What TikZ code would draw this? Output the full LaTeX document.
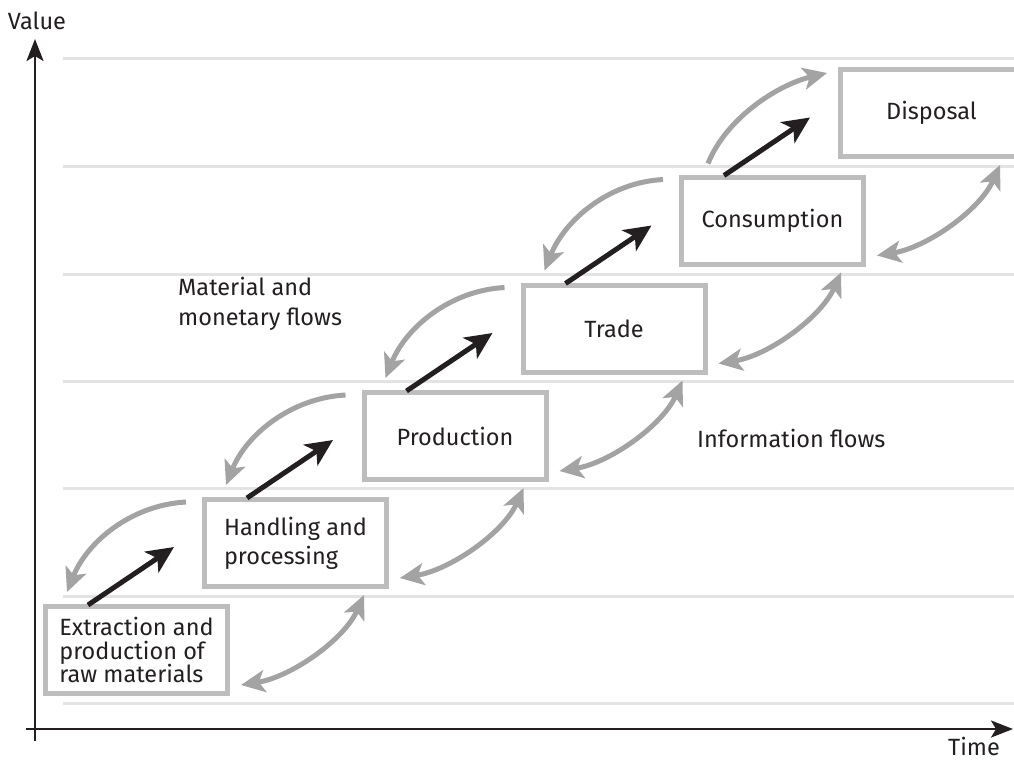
\documentclass[tikz,border=0pt]{standalone}
\usepackage{fontspec}
\setmainfont{Fira Sans}
\usetikzlibrary{arrows.meta,calc}
\definecolor{boxgray}{HTML}{BDBDBD}
\definecolor{arrgray}{HTML}{A3A3A3}
\definecolor{gridgray}{HTML}{E3E3E3}
\definecolor{dark}{HTML}{231F20}
\newcommand{\lblfont}{\fontsize{23.5}{28}\selectfont}
\begin{document}
\begin{tikzpicture}[x=1pt,y=-1pt,
  stage/.style={draw=boxgray, line width=5pt, fill=white, minimum width=182pt,
    minimum height=87pt, inner sep=0pt, text=dark, font=\lblfont},
  fwd/.style={draw=dark, line width=5pt, -{Stealth[length=27pt,width=25pt,inset=7pt]}},
  back/.style={draw=arrgray, line width=5pt, -{Stealth[length=24pt,width=22pt,inset=6pt]}},
  info/.style={draw=arrgray, line width=5pt, {Stealth[length=24pt,width=22pt,inset=6pt]}-{Stealth[length=24pt,width=22pt,inset=6pt]}},
  gridline/.style={draw=gridgray, line width=3pt},
  axis/.style={draw=dark, line width=2.5pt, -{Stealth[length=22pt,width=17pt,inset=5pt]}},
  lbl/.style={text=dark, font=\lblfont, inner sep=0pt}]
\clip (0,0) rectangle (1014,761);
\fill[white] (0,0) rectangle (1014,761);
% grid lines
\foreach \yy in {58,166,274,381,488,596,703}
  \draw[gridline] (63,\yy) -- (1014,\yy);
% axes
\coordinate (yb) at (35,741);
\coordinate (yt) at (35,39);
\coordinate (xl) at (26,729);
\coordinate (xr) at (1013,729);
\draw[axis] (yb) -- (yt);
\draw[axis] (xl) -- (xr);
\node[lbl] (value) at (37,21) {Value};
\node[lbl, anchor=base] (time) at (974,755) {Time};
% stages
\node[stage, align=left, font=\fontsize{23.5}{23.5}\selectfont] (ext) at (136.5,650)
  {Extraction and\\production of\\raw materials};
\node[stage, align=left, font=\fontsize{23.5}{29}\selectfont] (hand) at (295.5,543)
  {Handling and\\processing};
\node[stage] (prod) at (455,436) {Production};
\node[stage] (trade) at (614,328.5) {Trade};
\node[stage] (cons) at (772.5,220.5) {Consumption};
\node[stage] (disp) at (931.5,113) {Disposal};
% labels
\node[lbl, align=left, anchor=base west, font=\fontsize{23.5}{30}\selectfont] (mat) at (178,325)
  {Material and\\monetary flows};
\node[lbl, anchor=base west] (inf) at (697,447) {Information flows};
% forward (black) arrows
\foreach \a/\b in {ext/hand, hand/prod, prod/trade, trade/cons, cons/disp}
  \draw[fwd] ($(\a.north west)+(45,1)$) -- ($(\a.north west)+(131,-57)$);
% backward material flows
\foreach \a/\b in {hand/ext, prod/hand, trade/prod, cons/trade}
  \draw[back] ($(\a.north west)+(-16,5)$) .. controls +(-55,3) and +(20,-50) ..
              ($(\b.north west)+(24,-12)$);
% top material flow
\draw[back] ($(cons.north west)+(29,-11)$) .. controls +(18,-45) and +(-50,12) ..
            ($(disp.north west)+(-11,6)$);
% information flows
\foreach \a/\b in {ext/hand, hand/prod, prod/trade, trade/cons, cons/disp}
  \draw[info] ($(\a.south east)+(11,-11)$) .. controls +(50,-8) and +(-20,45) ..
              ($(\b.south east)+(-25,6)$);
\end{tikzpicture}
\end{document}
